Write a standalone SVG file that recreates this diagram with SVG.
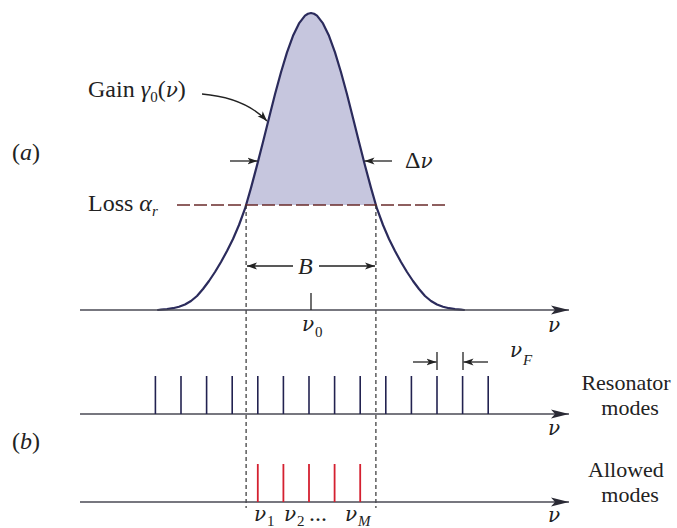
<svg xmlns="http://www.w3.org/2000/svg" width="677" height="528" viewBox="0 0 677 528">
<defs>
<marker id="ah" markerUnits="userSpaceOnUse" markerWidth="20" markerHeight="12" viewBox="0 -6 20 12" refX="18" refY="0" orient="auto">
<path d="M0,-4.5 L18,0 L0,4.5 L4,0 Z" fill="#2a2a35"/>
</marker>
<marker id="sh" markerUnits="userSpaceOnUse" markerWidth="12" markerHeight="10" viewBox="0 -5 12 10" refX="10" refY="0" orient="auto">
<path d="M0,-3.5 L10,0 L0,3.5 L2.5,0 Z" fill="#222"/>
</marker>
</defs>
<style>
text{font-family:"Liberation Serif","Times New Roman",serif;font-size:24px;fill:#222}
.it{font-style:italic}
.nu{font-family:"DejaVu Serif","Liberation Serif",serif;font-style:italic;font-size:20px}
.sub{font-size:15px}
.lbl{font-size:22px}
.axis{stroke:#4a4a55;stroke-width:1.4;fill:none}
.dot{stroke:#333;stroke-width:1.2;stroke-dasharray:4 3;fill:none}
.dim{stroke:#222;stroke-width:1.3;fill:none}
.res{stroke:#222250;stroke-width:1.6}
.allow{stroke:#d42030;stroke-width:1.8}
</style>
<rect width="677" height="528" fill="#ffffff"/>

<g id="gain-curve">
<path d="M246.1,205 L251,187.9 L257,165.4 L263,141.9 L269,117.9 L275,94.3 L281,72.2 L287,52.4 L293,35.8 L299,23.4 L305,15.6 L308,13.7 L311,13 L314,13.7 L317,15.6 L323,23.4 L329,35.8 L335,52.4 L341,72.2 L347,94.3 L353,117.9 L359,141.9 L365,165.4 L371,187.9 L375.9,205 Z" fill="#c6c6de"/>
<path d="M158,310 L161,309.7 L167,309.1 L173,308.2 L179,306.8 L185,304.5 L191,301 L197,296 L203,289 L209,281 L215,272 L221,262 L227,251 L233,239 L239,225 L245,208.7 L251,187.9 L257,165.4 L263,141.9 L269,117.9 L275,94.3 L281,72.2 L287,52.4 L293,35.8 L299,23.4 L305,15.6 L308,13.7 L311,13 L314,13.7 L317,15.6 L323,23.4 L329,35.8 L335,52.4 L341,72.2 L347,94.3 L353,117.9 L359,141.9 L365,165.4 L371,187.9 L377,208.7 L383,225 L389,239 L395,251 L401,262 L407,272 L413,281 L419,289 L425,296 L431,301 L437,304.5 L443,306.8 L449,308.2 L455,309.1 L461,309.7 L464,310" fill="none" stroke="#2b2b5c" stroke-width="2.2" stroke-linejoin="round" stroke-linecap="round"/>
</g>

<g id="loss-line">
<line x1="177" y1="205" x2="448" y2="205" stroke="#6a2b2b" stroke-width="1.7" stroke-dasharray="13 4"/>
</g>

<g id="connectors">
<line class="dot" x1="246.1" y1="205" x2="246.1" y2="508"/>
<line class="dot" x1="375.9" y1="205" x2="375.9" y2="508"/>
<line class="axis" x1="80" y1="310" x2="569" y2="310" marker-end="url(#ah)"/>
<line class="axis" x1="80" y1="414" x2="569" y2="414" marker-end="url(#ah)"/>
<line class="axis" x1="80" y1="502" x2="569" y2="502" marker-end="url(#ah)"/>
<line class="dim" x1="311" y1="293" x2="311" y2="310"/>
<path class="dim" d="M202,94 C225,96 250,103 267,121" marker-end="url(#sh)"/>
<line class="dim" x1="230" y1="161" x2="257.5" y2="161" marker-end="url(#sh)"/>
<line class="dim" x1="392" y1="161" x2="364.5" y2="161" marker-end="url(#sh)"/>
<line class="dim" x1="293" y1="266" x2="247" y2="266" marker-end="url(#sh)"/>
<line class="dim" x1="319" y1="266" x2="375" y2="266" marker-end="url(#sh)"/>
<line class="dim" x1="437" y1="352" x2="437" y2="370"/>
<line class="dim" x1="463" y1="352" x2="463" y2="370"/>
<line class="dim" x1="413" y1="362" x2="436.5" y2="362" marker-end="url(#sh)"/>
<line class="dim" x1="488" y1="362" x2="463.5" y2="362" marker-end="url(#sh)"/>
</g>

<g id="resonator-modes">
<line class="res" x1="155.4" y1="376" x2="155.4" y2="414"/>
<line class="res" x1="181" y1="376" x2="181" y2="414"/>
<line class="res" x1="206.6" y1="376" x2="206.6" y2="414"/>
<line class="res" x1="232.2" y1="376" x2="232.2" y2="414"/>
<line class="res" x1="257.8" y1="376" x2="257.8" y2="414"/>
<line class="res" x1="283.4" y1="376" x2="283.4" y2="414"/>
<line class="res" x1="309" y1="376" x2="309" y2="414"/>
<line class="res" x1="334.6" y1="376" x2="334.6" y2="414"/>
<line class="res" x1="360.2" y1="376" x2="360.2" y2="414"/>
<line class="res" x1="385.8" y1="376" x2="385.8" y2="414"/>
<line class="res" x1="411.4" y1="376" x2="411.4" y2="414"/>
<line class="res" x1="437" y1="376" x2="437" y2="414"/>
<line class="res" x1="462.6" y1="376" x2="462.6" y2="414"/>
<line class="res" x1="488.2" y1="376" x2="488.2" y2="414"/>
</g>

<g id="allowed-modes">
<line class="allow" x1="257.8" y1="464" x2="257.8" y2="502"/>
<line class="allow" x1="283.4" y1="464" x2="283.4" y2="502"/>
<line class="allow" x1="309" y1="464" x2="309" y2="502"/>
<line class="allow" x1="334.6" y1="464" x2="334.6" y2="502"/>
<line class="allow" x1="360.2" y1="464" x2="360.2" y2="502"/>
</g>

<g id="labels">
<text x="88" y="97">Gain <tspan class="it">γ</tspan><tspan class="sub" dy="5">0</tspan><tspan dy="-5">(</tspan><tspan class="nu">ν</tspan>)</text>
<text x="12" y="160">(<tspan class="it">a</tspan>)</text>
<text x="12" y="449">(<tspan class="it">b</tspan>)</text>
<text x="88" y="211">Loss <tspan class="it">α</tspan><tspan class="sub it" dy="5">r</tspan></text>
<text x="405" y="168">Δ<tspan class="nu">ν</tspan></text>
<text class="it" x="298" y="274">B</text>
<text class="nu" x="302" y="331">ν</text><text class="sub" x="315" y="337">0</text>
<text class="nu" x="548" y="332">ν</text>
<text class="nu" x="548" y="435">ν</text>
<text class="nu" x="548" y="522">ν</text>
<text class="nu" x="510" y="357">ν</text><text class="sub it" x="523" y="365">F</text>
<text class="lbl" x="626" y="390" text-anchor="middle">Resonator</text>
<text class="lbl" x="630" y="415" text-anchor="middle">modes</text>
<text class="lbl" x="626" y="477" text-anchor="middle">Allowed</text>
<text class="lbl" x="630" y="502" text-anchor="middle">modes</text>
<text class="nu" x="254" y="521">ν</text><text class="sub" x="267" y="526">1</text>
<text class="nu" x="284" y="521">ν</text><text class="sub" x="297" y="526">2</text>
<text x="309" y="521">...</text>
<text class="nu" x="345" y="521">ν</text><text class="sub it" x="358" y="526">M</text>
</g>
</svg>
